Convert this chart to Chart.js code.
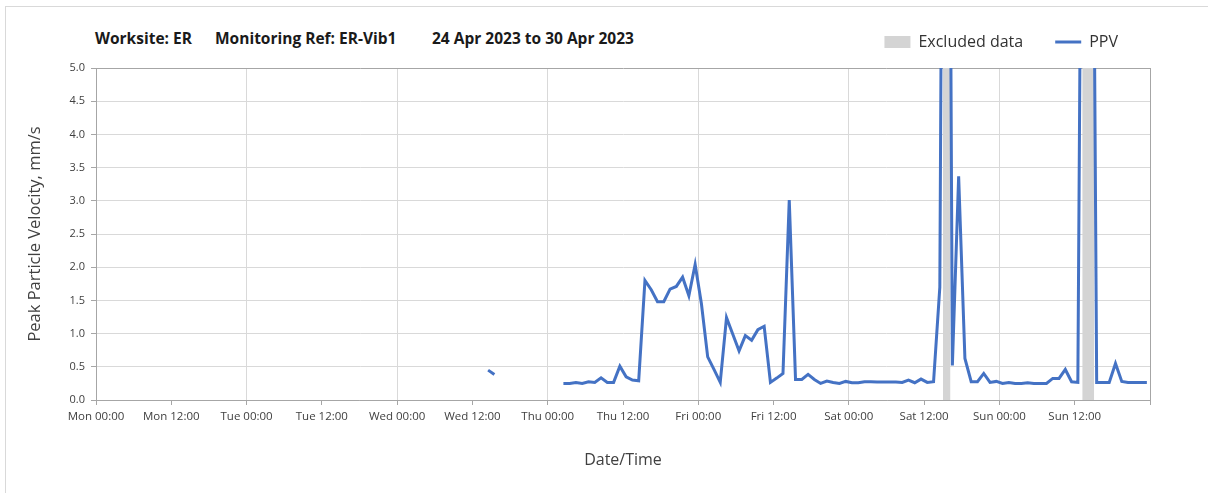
<!DOCTYPE html>
<html>
<head>
<meta charset="utf-8">
<script src="https://cdn.jsdelivr.net/npm/chart.js@4.4.0/dist/chart.umd.min.js"></script>
<style>
html,body{margin:0;padding:0;background:#fff;}
#wrap{position:relative;width:1208px;height:493px;overflow:hidden;background:#fff;}
#frame{position:absolute;left:5px;top:6px;width:1400px;height:700px;border-left:1px solid #d9d9d9;border-top:1px solid #d9d9d9;}
.tt{position:absolute;top:27px;font-family:"Open Sans",sans-serif;font-weight:bold;font-size:15.5px;color:#1a1a1a;white-space:pre;}
#c{position:absolute;left:0;top:0;}
</style>
</head>
<body>
<div id="wrap">
  <div id="frame"></div>
  <div class="tt" style="left:95px">Worksite: ER</div>
  <div class="tt" style="left:215px">Monitoring Ref: ER-Vib1</div>
  <div class="tt" style="left:432px">24 Apr 2023 to 30 Apr 2023</div>
  <canvas id="c" width="1208" height="493"></canvas>
</div>
<script>
// Hours since Mon 24 Apr 2023 00:00
const tickLabels = ['Mon 00:00','Mon 12:00','Tue 00:00','Tue 12:00','Wed 00:00','Wed 12:00',
  'Thu 00:00','Thu 12:00','Fri 00:00','Fri 12:00','Sat 00:00','Sat 12:00','Sun 00:00','Sun 12:00'];

const ppvHours = [62.5, 63.5, 69,
  74.5, 75.5, 76.5, 77.5, 78.5, 79.5, 80.5, 81.5, 82.5, 83.5, 84.5, 85.5, 86.5,
  87.5, 88.5, 89.5, 90.5, 91.5, 92.5, 93.5, 94.5, 95.5, 96.5, 97.5, 98.5, 99.5,
  100.5, 101.5, 102.5, 103.5, 104.5, 105.5, 106.5, 107.5, 108.5, 109.5, 110.5,
  111.5, 112.5, 113.5, 114.5, 115.5, 116.5, 117.5, 118.5, 119.5, 120.5, 121.5,
  122.5, 123.5, 124.5, 125.5, 126.5, 127.5, 128.5, 129.5, 130.5, 131.5, 132.5,
  133.5, 134.5, 135.5, 136.5, 137.5, 138.5, 139.5, 140.5, 141.5, 142.5, 143.5,
  144.5, 145.5, 146.5, 147.5, 148.5, 149.5, 150.5, 151.5, 152.5, 153.5, 154.5,
  155.5, 156.5, 157.5, 158.5, 159.5, 160.5, 161.5, 162.5, 163.5, 164.5, 165.5,
  166.5, 167.5];

const ppvValues = [0.45, 0.385, null,
  0.25, 0.25, 0.265, 0.25, 0.275, 0.265, 0.335, 0.265, 0.265, 0.51, 0.35, 0.30, 0.29,
  1.80, 1.66, 1.48, 1.48, 1.67, 1.71, 1.85, 1.57, 2.04, 1.45, 0.65, 0.46, 0.265,
  1.24, 0.99, 0.74, 0.97, 0.90, 1.06, 1.11, 0.265, 0.33, 0.40, 3.01,
  0.31, 0.31, 0.385, 0.31, 0.25, 0.285, 0.265, 0.25, 0.28, 0.26, 0.26,
  0.275, 0.275, 0.27, 0.27, 0.27, 0.27, 0.265, 0.30, 0.26, 0.315, 0.265,
  0.275, 1.70, 20.0, 0.52, 3.37, 0.625, 0.275, 0.275, 0.40, 0.265, 0.28,
  0.25, 0.265, 0.25, 0.25, 0.26, 0.25, 0.25, 0.25, 0.325, 0.325, 0.46,
  0.275, 0.265, 15.0, 15.0, 0.265, 0.265, 0.265, 0.55, 0.28, 0.265, 0.265,
  0.265, 0.265];

const excludedStart = [135.0, 157.2];
const excludedEnd   = [136.2, 159.1];

const yMax = 5;
const xMax = 168;

const ppvPoints = ppvHours.map((h, i) => ({x: h, y: ppvValues[i]}));
const bandSets = excludedStart.map((s, i) => ({
  label: 'Excluded data',
  data: [{x: s, y: yMax}, {x: excludedEnd[i], y: yMax}],
  borderColor: 'rgba(0,0,0,0)',
  borderWidth: 0,
  backgroundColor: '#d4d4d4',
  fill: 'origin',
  pointRadius: 0,
  pointStyle: 'rect',
  pointBackgroundColor: '#d4d4d4',
  pointBorderColor: 'rgba(0,0,0,0)',
  pointBorderWidth: 0,
  order: 1
}));

const axisGray = '#a6a6a6';
const gridGray = '#d9d9d9';
const textGray = '#404040';

new Chart(document.getElementById('c'), {
  type: 'line',
  data: {
    datasets: [
      ...bandSets,
      {
        label: 'PPV',
        data: ppvPoints,
        borderColor: '#4472C4',
        backgroundColor: '#4472C4',
        borderWidth: 3,
        tension: 0,
        spanGaps: false,
        fill: false,
        pointRadius: 0,
        pointStyle: 'line',
        pointBorderColor: '#4472C4',
        pointBorderWidth: 3,
        order: 0
      }
    ]
  },
  options: {
    responsive: false,
    animation: false,
    devicePixelRatio: 1,
    events: [],
    layout: {padding: {left: 0, right: 58, top: 2, bottom: 0}},
    plugins: {
      tooltip: {enabled: false},
      title: {display: false},
      subtitle: {
        display: true, text: '', position: 'top', weight: 100,
        font: {size: 1, lineHeight: 1}, padding: {top: 0, bottom: 7}
      },
      legend: {
        display: true,
        position: 'top',
        align: 'end',
        labels: {
          usePointStyle: true,
          pointStyleWidth: 26,
          boxHeight: 12,
          padding: 32,
          color: '#333333',
          font: {family: 'Open Sans', size: 16},
          filter: (item, data) => item.datasetIndex !== 1,
          sort: (a, b) => a.datasetIndex - b.datasetIndex
        }
      }
    },
    scales: {
      x: {
        type: 'linear',
        min: 0,
        max: xMax,
        afterFit: (s) => { s.height = 93; },
        ticks: {
          stepSize: 12,
          autoSkip: false,
          maxRotation: 0,
          minRotation: 0,
          padding: 5,
          color: textGray,
          font: {family: 'Open Sans', size: 11.5},
          callback: (v) => (v % 12 === 0 && tickLabels[v / 12] !== undefined) ? tickLabels[v / 12] : ''
        },
        grid: {
          color: (ctx) => {
            const v = ctx.tick ? ctx.tick.value : 0;
            if (v === xMax) return axisGray;
            return v % 24 === 0 ? gridGray : 'rgba(0,0,0,0)';
          },
          tickColor: axisGray,
          tickLength: 5,
          lineWidth: 1
        },
        border: {display: true, color: axisGray, width: 1},
        title: {
          display: true,
          text: 'Date/Time',
          color: textGray,
          font: {family: 'Open Sans', size: 16},
          padding: {top: 0, bottom: 23}
        }
      },
      y: {
        type: 'linear',
        min: 0,
        max: yMax,
        afterFit: (s) => { s.width = 96; },
        ticks: {
          stepSize: 0.5,
          padding: 6,
          color: textGray,
          font: {family: 'Open Sans', size: 11},
          callback: (v) => Number(v).toFixed(1)
        },
        grid: {
          color: (ctx) => (ctx.tick && ctx.tick.value === yMax) ? axisGray : gridGray,
          tickColor: axisGray,
          tickLength: 5,
          lineWidth: 1
        },
        border: {display: true, color: axisGray, width: 1},
        title: {
          display: true,
          text: 'Peak Particle Velocity, mm/s',
          color: textGray,
          font: {family: 'Open Sans', size: 16.5},
          padding: {top: 25, bottom: 0}
        }
      }
    }
  }
});
</script>
</body>
</html>
